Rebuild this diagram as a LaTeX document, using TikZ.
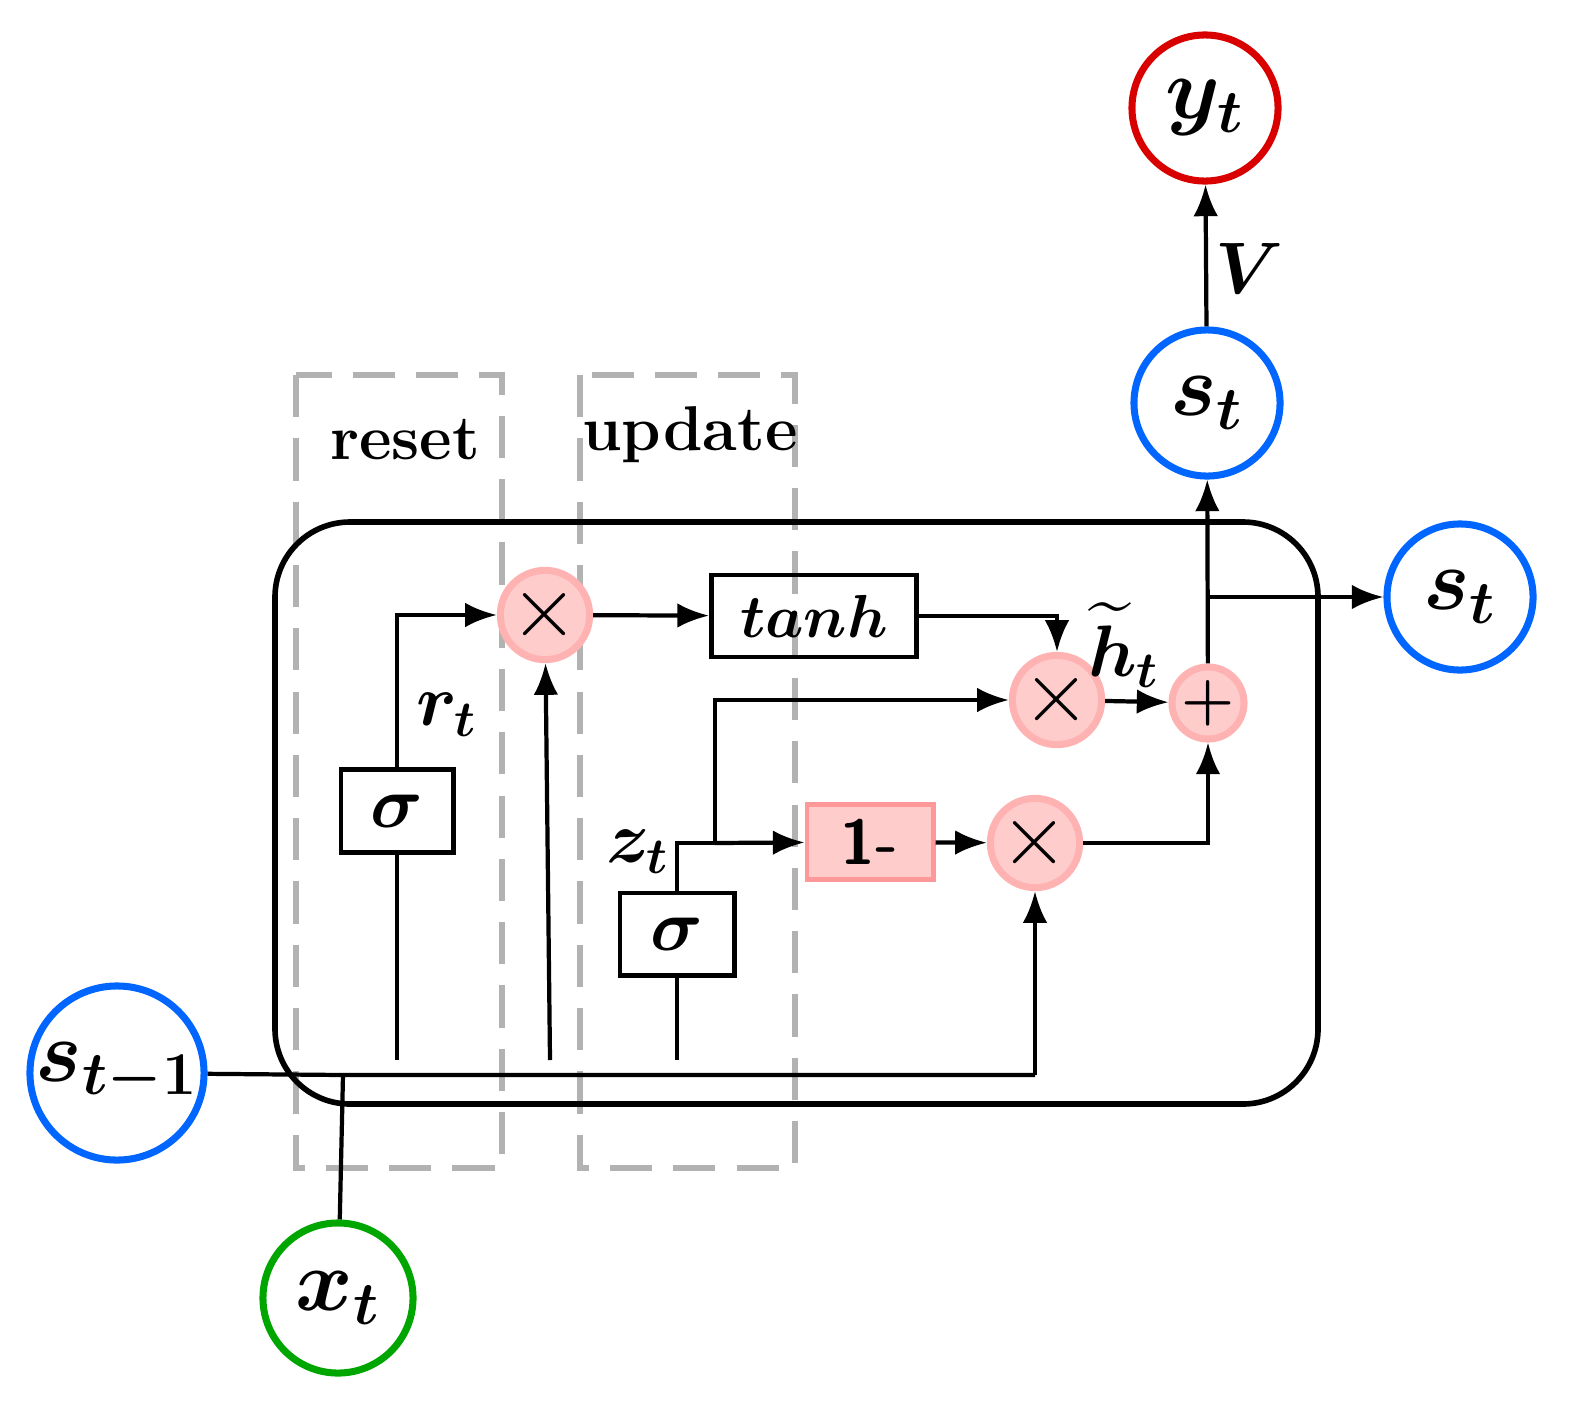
\documentclass[tikz,border=0pt]{standalone}
\usepackage{amsmath,amssymb,bm}
\usetikzlibrary{arrows.meta}
\begin{document}
\begin{tikzpicture}[x=0.01cm,y=-0.01cm,
    circ/.style={circle, draw, line width=2pt, minimum size=#1, inner sep=0pt, font=\fontsize{23}{25}\selectfont},
    op/.style={circle, draw=red!30, fill=red!20, line width=2pt, minimum size=0.72cm, inner sep=0pt, font=\fontsize{24}{26}\selectfont},
    box/.style={draw, line width=1.4pt, inner sep=0pt, font=\fontsize{20}{22}\selectfont},
    gate/.style={draw=gray!60, line width=1.6pt, dash pattern=on 12pt off 6pt},
    arrow/.style={line width=1.2pt, -{Latex[length=9pt,width=7pt]}},
    line/.style={line width=1.2pt},
    lab/.style={font=\fontsize{22}{24}\selectfont}
]
\useasboundingbox (0,0) rectangle (1594,1427);
% gate regions
\draw[gate] (296,375) rectangle (502,1168);
\draw[gate] (580,375) rectangle (795,1168);
\node[font=\bfseries\fontsize{18}{20}\selectfont] at (405,440) {reset};
\node[font=\bfseries\fontsize{18}{20}\selectfont] at (690,435) {update};
% cell
\draw[line width=1.6pt, rounded corners=0.75cm] (275,522) rectangle (1318,1104);
% circles
\node[circ=1.74cm, draw=blue!60!cyan] (sp) at (117,1073) {$\bm{s_{t-1}}$};
\node[circ=1.5cm, draw=green!65!black] (x) at (338,1298) {$\bm{x_t}$};
\node[circ=1.46cm, draw=blue!60!cyan] (st) at (1207,403) {$\bm{s_t}$};
\node[circ=1.46cm, draw=red!85!black] (y) at (1205,108) {$\bm{y_t}$};
\node[circ=1.46cm, draw=blue!60!cyan] (sr) at (1460,597) {$\bm{s_t}$};
% boxes
\node[box, minimum width=1.12cm, minimum height=0.83cm] (sg1) at (397,811) {$\bm{\sigma}$};
\node[box, minimum width=1.14cm, minimum height=0.82cm] (sg2) at (677,934) {$\bm{\sigma}$};
\node[box, minimum width=2.05cm, minimum height=0.82cm, font=\fontsize{17}{19}\selectfont] (th) at (814,616) {$\bm{tanh}$};
\node[box, draw=red!40, fill=red!20, minimum width=1.26cm, minimum height=0.75cm, font=\sffamily\bfseries\fontsize{18}{20}\selectfont] (om) at (870,842) {1-};
% operators
\node[op] (m1) at (545,615) {$\times$};
\node[op] (m2) at (1057,700) {$\times$};
\node[op] (m3) at (1035,843) {$\times$};
\node[op, font=\fontsize{18}{20}\selectfont] (pl) at (1208,703) {$\bm{+}$};
% coordinates
\coordinate (j) at (343,1075);
\coordinate (ts) at (1208,597);
\coordinate (zs) at (715,843);
% inputs
\draw[line] (sp) -- (j) -- (1035,1075);
\draw[arrow] (1035,1075) -- (m3);
\draw[line] (x) -- (j);
\draw[line] (397,1060) -- (sg1.south);
\draw[arrow] (550,1060) -- (m1);
\draw[line] (677,1060) -- (sg2.south);
% reset path
\draw[arrow] (sg1.north) |- (m1);
\node[lab] at (447,715) {$\bm{r_t}$};
\draw[arrow] (m1) -- (th);
\draw[arrow] (th.east) -| (m2);
\node[lab] at (1124,645) {$\bm{\widetilde{h}_t}$};
% update path
\draw[line] (sg2.north) -- (677,843) -- (zs);
\draw[arrow] (zs) -- (om);
\draw[arrow] (zs) |- (m2);
\node[lab] at (638,852) {$\bm{z_t}$};
\draw[arrow] (om) -- (m3);
\draw[arrow] (m3) -| (pl);
\draw[arrow] (m2) -- (pl);
% outputs
\draw[arrow] (pl) -- (st);
\draw[arrow] (ts) -- (sr);
\draw[arrow] (st) -- (y);
\node[lab] at (1250,268) {$\bm{V}$};
\end{tikzpicture}
\end{document}
